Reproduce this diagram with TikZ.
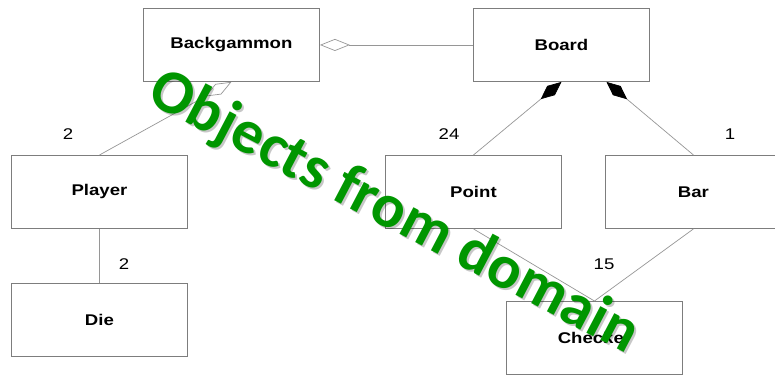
\documentclass[tikz,border=0pt]{standalone}
\usepackage{fontspec}
\setmainfont{Liberation Sans}
\newfontfamily\boxfont[FakeStretch=1.2]{Liberation Sans}
\newfontfamily\notefont{Carlito}
\usetikzlibrary{arrows.meta}
\definecolor{linegray}{RGB}{150,150,150}
\definecolor{framegray}{RGB}{125,125,125}
\definecolor{notegreen}{RGB}{0,150,0}
\newcommand{\w}{176pt}
\newcommand{\h}{73pt}

\begin{document}
\begin{tikzpicture}[x=1pt, y=-1pt,
    cls/.style={draw=framegray, line width=0.9pt, rectangle, anchor=north west, minimum width=\w, minimum height=\h, inner sep=0pt, font=\boxfont\bfseries\fontsize{15.5}{18}\selectfont},
    link/.style={draw=linegray, line width=0.7pt},
    agg/.style={link, -{Diamond[open, length=30pt, width=12pt, line width=0.7pt]}},
    comp/.style={link, -{Diamond[length=27pt, width=12pt, black]}},
    mult/.style={font=\boxfont\fontsize{15.5}{18}\selectfont}]
    \useasboundingbox (0,0) rectangle (775,376);

    % Top row
    \node[cls] (backgammon) at (143,8) {Backgammon};
    \node[cls] (board) at (473,8) {Board};

    % Middle row
    \node[cls] (player) at (11,155) {Player};
    \node[cls] (point) at (385,155) {Point};
    \node[cls] (bar) at (605,155) {Bar};

    % Bottom row
    \node[cls] (die) at (11,283) {Die};
    \node[cls] (checker) at (506,301) {Checker};

    % Associations
    \draw[agg] (board.west) -- (backgammon.east);
    \draw[agg] (player.north) -- (backgammon.south);
    \draw[comp] (point.north) -- (board.south);
    \draw[comp] (bar.north) -- ([xshift=45pt]board.south);
    \draw[link] (player.south) -- (die.north);
    \draw[link] (point.south) -- (checker.north);
    \draw[link] (bar.south) -- (checker.north);

    % Multiplicities
    \node[mult] (m-player) at (68,134) {2};
    \node[mult] (m-die) at (124,264) {2};
    \node[mult] (m-point) at (449,134) {24};
    \node[mult] (m-bar) at (730,134) {1};
    \node[mult] (m-checker) at (604,264) {15};

    % Overlay caption
    \node[text=black, opacity=0.22, rotate=-27.7, font=\notefont\bfseries\fontsize{62}{70}\selectfont] (caption-shadow) at (396,215) {Objects from domain};
    \node[text=notegreen, rotate=-27.7, font=\notefont\bfseries\fontsize{62}{70}\selectfont] (caption) at (394,213) {Objects from domain};
\end{tikzpicture}
\end{document}
